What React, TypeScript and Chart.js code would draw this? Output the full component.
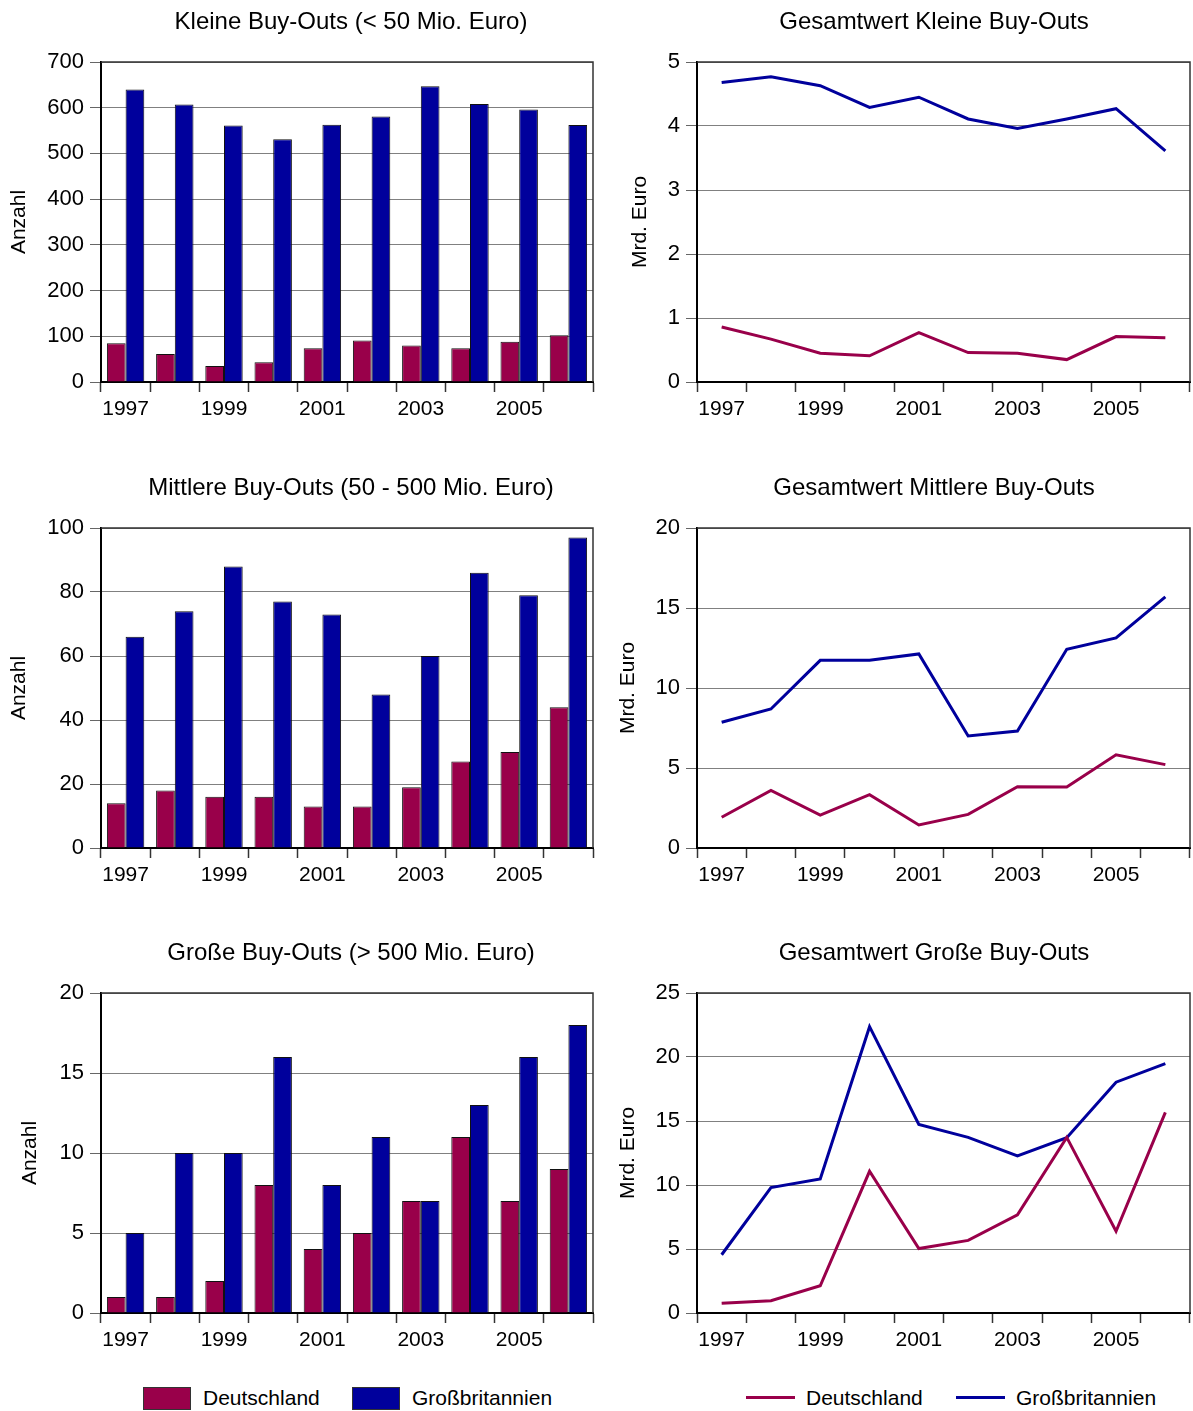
import React, { useEffect, useRef } from 'react';
import { Chart, registerables } from 'chart.js';

Chart.register(...registerables);

const years = ['1997', '1998', '1999', '2000', '2001', '2002', '2003', '2004', '2005', '2006'];

const kleineAnzahlDE = [85, 61, 35, 43, 74, 91, 80, 74, 88, 102];
const kleineAnzahlGB = [640, 607, 561, 531, 563, 581, 647, 608, 596, 562];
const kleineWertDE = [0.86, 0.67, 0.45, 0.41, 0.77, 0.46, 0.45, 0.35, 0.71, 0.69];
const kleineWertGB = [4.68, 4.77, 4.63, 4.29, 4.45, 4.11, 3.96, 4.11, 4.27, 3.61];

const mittlereAnzahlDE = [14, 18, 16, 16, 13, 13, 19, 27, 30, 44];
const mittlereAnzahlGB = [66, 74, 88, 77, 73, 48, 60, 86, 79, 97];
const mittlereWertDE = [1.92, 3.6, 2.06, 3.33, 1.44, 2.1, 3.83, 3.81, 5.83, 5.21];
const mittlereWertGB = [7.86, 8.69, 11.73, 11.73, 12.13, 7.0, 7.31, 12.42, 13.13, 15.69];

const grosseAnzahlDE = [1, 1, 2, 8, 4, 5, 7, 11, 7, 9];
const grosseAnzahlGB = [5, 10, 10, 16, 8, 11, 7, 13, 16, 18];
const grosseWertDE = [0.76, 0.96, 2.13, 11.07, 5.04, 5.67, 7.67, 13.72, 6.39, 15.67];
const grosseWertGB = [4.55, 9.8, 10.47, 22.37, 14.73, 13.72, 12.27, 13.69, 18.03, 19.49];

const seriesNames = ['Deutschland', 'Großbritannien'];
const titles = [
  'Kleine Buy-Outs (< 50 Mio. Euro)',
  'Gesamtwert Kleine Buy-Outs',
  'Mittlere Buy-Outs (50 - 500 Mio. Euro)',
  'Gesamtwert Mittlere Buy-Outs',
  'Große Buy-Outs (> 500 Mio. Euro)',
  'Gesamtwert Große Buy-Outs',
];

const RED = '#99004A';
const BLUE = '#00009C';
const FONT = "'Liberation Sans', Arial, Helvetica, sans-serif";

const framePlugin = {
  id: 'frame',
  beforeDatasetsDraw(chart: any) {
    const { ctx, chartArea } = chart;
    ctx.save();
    ctx.strokeStyle = '#333';
    ctx.lineWidth = 1.5;
    ctx.beginPath();
    ctx.moveTo(chartArea.left, chartArea.top);
    ctx.lineTo(chartArea.right, chartArea.top);
    ctx.lineTo(chartArea.right, chartArea.bottom);
    ctx.stroke();
    ctx.restore();
  },
};

type PanelProps = {
  kind: 'bar' | 'line';
  left: number;
  top: number;
  width: number;
  height: number;
  title: string;
  titleCenter: number;
  yTitle: string;
  yTitlePad: number;
  yMax: number;
  yStep: number;
  yAxisWidth: number;
  padRight: number;
  de: number[];
  gb: number[];
};

const PLOT_TOP = 62;
const PLOT_H = 320;

function Panel(p: PanelProps) {
  const ref = useRef<HTMLCanvasElement>(null);
  useEffect(() => {
    if (!ref.current) return;
    const isBar = p.kind === 'bar';
    const datasets = isBar
      ? [
          { label: seriesNames[0], data: p.de, backgroundColor: RED, borderColor: '#111', borderWidth: 1, categoryPercentage: 0.76, barPercentage: 1 },
          { label: seriesNames[1], data: p.gb, backgroundColor: BLUE, borderColor: '#111', borderWidth: 1, categoryPercentage: 0.76, barPercentage: 1 },
        ]
      : [
          { label: seriesNames[0], data: p.de, borderColor: RED, backgroundColor: RED, borderWidth: 3, pointRadius: 0, tension: 0, fill: false },
          { label: seriesNames[1], data: p.gb, borderColor: BLUE, backgroundColor: BLUE, borderWidth: 3, pointRadius: 0, tension: 0, fill: false },
        ];
    const xFont = { family: FONT, size: 21 };
    const yFont = { family: FONT, size: 22 };
    const chart = new Chart(ref.current, {
      type: p.kind,
      data: { labels: years, datasets: datasets as any },
      options: {
        animation: false,
        responsive: false,
        maintainAspectRatio: false,
        layout: { padding: { top: PLOT_TOP, right: p.padRight, bottom: 0, left: 0 } },
        plugins: { legend: { display: false }, tooltip: { enabled: false }, title: { display: false } },
        scales: {
          x: {
            offset: true,
            grid: { offset: true, drawOnChartArea: false, drawTicks: true, tickLength: 10, tickColor: '#333', tickWidth: 1.5 },
            border: { display: true, color: '#000', width: 2 },
            ticks: {
              autoSkip: false,
              maxRotation: 0,
              minRotation: 0,
              padding: 5,
              color: '#000',
              font: xFont,
              callback: (_v: any, i: number) => (i % 2 === 0 ? years[i] : ''),
            },
            afterFit: (s: any) => {
              s.height = p.height - PLOT_TOP - PLOT_H;
            },
          },
          y: {
            min: 0,
            max: p.yMax,
            ticks: { stepSize: p.yStep, padding: 6, color: '#000', font: yFont },
            grid: { color: '#808080', lineWidth: 1, tickLength: 11, tickColor: '#666' },
            border: { display: true, color: '#000', width: 2 },
            title: { display: true, text: p.yTitle, color: '#000', font: xFont, padding: { top: p.yTitlePad, bottom: 0 } },
            afterFit: (s: any) => {
              s.width = p.yAxisWidth;
            },
          },
        },
      } as any,
      plugins: [framePlugin],
    });
    return () => chart.destroy();
  }, []);
  return (
    <>
      <canvas
        ref={ref}
        width={p.width}
        height={p.height}
        style={{ position: 'absolute', left: p.left, top: p.top, width: p.width, height: p.height }}
      />
      <div
        style={{
          position: 'absolute',
          left: p.titleCenter - 250,
          width: 500,
          top: p.top + 7,
          textAlign: 'center',
          fontFamily: FONT,
          fontSize: 24,
          lineHeight: '28px',
          color: '#000',
          whiteSpace: 'nowrap',
        }}
      >
        {p.title}
      </div>
    </>
  );
}

const legendText: React.CSSProperties = {
  position: 'absolute',
  fontFamily: FONT,
  fontSize: 21,
  lineHeight: '24px',
  color: '#000',
  whiteSpace: 'nowrap',
};

export default function App() {
  const rows = [0, 466, 931];
  const H = 440;
  return (
    <div style={{ position: 'absolute', left: 0, top: 0, width: 1193, height: 1411, background: '#fff', overflow: 'hidden' }}>
      <Panel kind="bar" left={0} top={rows[0]} width={600} height={H} title={titles[0]} titleCenter={351} yTitle="Anzahl" yTitlePad={6.4} yMax={700} yStep={100} yAxisWidth={101} padRight={7} de={kleineAnzahlDE} gb={kleineAnzahlGB} />
      <Panel kind="line" left={600} top={rows[0]} width={593} height={H} title={titles[1]} titleCenter={934} yTitle="Mrd. Euro" yTitlePad={27.4} yMax={5} yStep={1} yAxisWidth={97} padRight={3} de={kleineWertDE} gb={kleineWertGB} />
      <Panel kind="bar" left={0} top={rows[1]} width={600} height={H} title={titles[2]} titleCenter={351} yTitle="Anzahl" yTitlePad={6.4} yMax={100} yStep={20} yAxisWidth={101} padRight={7} de={mittlereAnzahlDE} gb={mittlereAnzahlGB} />
      <Panel kind="line" left={600} top={rows[1]} width={593} height={H} title={titles[3]} titleCenter={934} yTitle="Mrd. Euro" yTitlePad={15.4} yMax={20} yStep={5} yAxisWidth={97} padRight={3} de={mittlereWertDE} gb={mittlereWertGB} />
      <Panel kind="bar" left={0} top={rows[2]} width={600} height={H} title={titles[4]} titleCenter={351} yTitle="Anzahl" yTitlePad={17.4} yMax={20} yStep={5} yAxisWidth={101} padRight={7} de={grosseAnzahlDE} gb={grosseAnzahlGB} />
      <Panel kind="line" left={600} top={rows[2]} width={593} height={H} title={titles[5]} titleCenter={934} yTitle="Mrd. Euro" yTitlePad={15.4} yMax={25} yStep={5} yAxisWidth={97} padRight={3} de={grosseWertDE} gb={grosseWertGB} />

      <div style={{ position: 'absolute', left: 143, top: 1387, width: 46, height: 21, background: RED, border: '1px solid #333' }} />
      <div style={{ ...legendText, left: 203, top: 1386 }}>{seriesNames[0]}</div>
      <div style={{ position: 'absolute', left: 352, top: 1387, width: 46, height: 21, background: BLUE, border: '1px solid #333' }} />
      <div style={{ ...legendText, left: 412, top: 1386 }}>{seriesNames[1]}</div>

      <div style={{ position: 'absolute', left: 746, top: 1396, width: 49, height: 3, background: RED }} />
      <div style={{ ...legendText, left: 806, top: 1386 }}>{seriesNames[0]}</div>
      <div style={{ position: 'absolute', left: 956, top: 1396, width: 49, height: 3, background: BLUE }} />
      <div style={{ ...legendText, left: 1016, top: 1386 }}>{seriesNames[1]}</div>
    </div>
  );
}
